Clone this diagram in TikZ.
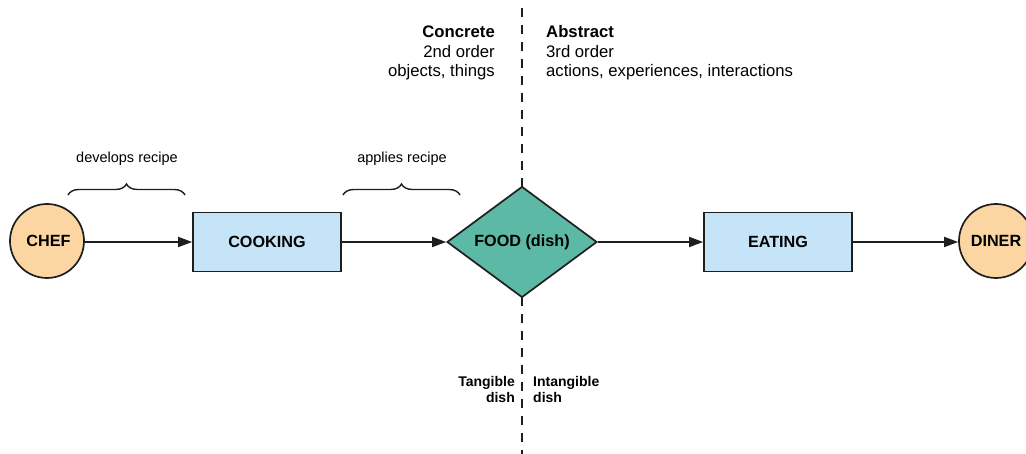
\documentclass[tikz,border=0pt]{standalone}
\usepackage{fontspec}
\setmainfont{Liberation Sans}
\usetikzlibrary{arrows.meta,shapes.geometric,decorations.pathreplacing}
\definecolor{peach}{HTML}{FBD6A3}
\definecolor{skyfill}{HTML}{C6E4F7}
\definecolor{teal}{HTML}{5CB9A5}
\definecolor{ink}{HTML}{1E1E1E}
\begin{document}
\begin{tikzpicture}[x=1pt,y=1pt,
  actor/.style={circle,draw=ink,line width=1.7pt,fill=peach,minimum size=74pt,inner sep=0pt,
    font=\fontsize{16.2}{19}\selectfont\bfseries},
  process/.style={rectangle,draw=ink,line width=1.7pt,fill=skyfill,minimum width=148pt,minimum height=59pt,
    font=\fontsize{16.2}{19}\selectfont\bfseries},
  product/.style={diamond,draw=ink,line width=1.7pt,fill=teal,minimum width=150pt,minimum height=111pt,
    inner sep=0pt,font=\fontsize{16.2}{19}\selectfont\bfseries},
  flow/.style={draw=ink,line width=1.7pt,-{Triangle[length=14pt,width=10pt]}},
  bracket/.style={draw=ink,line width=1.4pt,decorate,decoration={brace,amplitude=11pt}},
  note/.style={font=\fontsize{16.7}{20}\selectfont,inner sep=0pt},
  small/.style={font=\fontsize{14.5}{17}\selectfont,inner sep=0pt},
  tag/.style={font=\fontsize{14}{17}\selectfont\bfseries,inner sep=0pt}]
\useasboundingbox (0,0) rectangle (1026,454);

% dividing line between the concrete and the abstract side
\coordinate (divtop) at (522,446);
\coordinate (divbot) at (522,0);
\draw[ink,line width=2pt,dash pattern=on 9pt off 8pt] (divtop) -- (divbot);

% main chain
\node[actor] (chef) at (47,213) {\hspace*{3pt}CHEF};
\node[process] (cooking) at (267,212) {COOKING};
\node[product] (food) at (522,212) {FOOD (dish)};
\node[process] (eating) at (778,212) {EATING};
\node[actor] (diner) at (996,213) {DINER};

\draw[flow] (chef.east |- cooking) -- (cooking.west);
\draw[flow] (cooking.east) -- (food.west);
\draw[flow] (food.east) -- (eating.west);
\draw[flow] (eating.east) -- (diner.west |- eating);

% braces over the first two steps
\coordinate (b1s) at (68,259);
\coordinate (b1e) at (185,259);
\coordinate (b2s) at (343,259);
\coordinate (b2e) at (460,259);
\draw[bracket] (b1s) -- (b1e);
\draw[bracket] (b2s) -- (b2e);
\node[small,anchor=base] (dev) at (127,291) {develops recipe};
\node[small,anchor=base] (app) at (402,291) {applies recipe};

% headings on both sides of the line
\node[note,anchor=base east] (conc) at (495,416) {\bfseries Concrete};
\node[note,anchor=base east] (ord2) at (495,396) {2nd order};
\node[note,anchor=base east] (objs) at (495,377) {objects, things};
\node[note,anchor=base west] (abst) at (546,416) {\bfseries Abstract};
\node[note,anchor=base west] (ord3) at (546,396) {3rd order};
\node[note,anchor=base west] (acts) at (546,377) {actions, experiences, interactions};

% labels under the dish
\node[tag,anchor=base east] (tang) at (515,67) {Tangible};
\node[tag,anchor=base east] (tdish) at (515,51) {dish};
\node[tag,anchor=base west] (intang) at (533,67) {Intangible};
\node[tag,anchor=base west] (idish) at (533,51) {dish};
\end{tikzpicture}
\end{document}
